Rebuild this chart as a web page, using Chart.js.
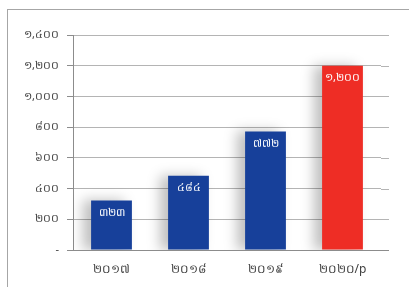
<!DOCTYPE html>
<html>
<head>
<meta charset="utf-8">
<script src="https://cdn.jsdelivr.net/npm/chart.js@4"></script>
<style>
  html, body { margin: 0; padding: 0; background: #fff; }
  #wrap { position: relative; width: 409px; height: 287px; overflow: hidden; }
  #frame {
    position: absolute; left: 7px; top: 9px; width: 420px; height: 300px;
    border-left: 1px solid #a6a6a6; border-top: 1px solid #a6a6a6;
  }
  #graph { position: absolute; left: 0; top: 0; }
</style>
</head>
<body>
<div id="wrap">
  <div id="frame"></div>
  <canvas id="graph" width="409" height="287"></canvas>
</div>
<script>
"use strict";

const years = ["២០១៧", "២០១៨", "២០១៩", "២០២០/p"];
const values = [323, 484, 772, 1200];
const valueLabels = ["៣២៣", "៤៨៤", "៧៧២", "១,២០០"];
const barColors = ["#17409a", "#17409a", "#17409a", "#ee2d25"];
const yTickLabels = {
  0: "-", 200: "២០០", 400: "៤០០", 600: "៦០០", 800: "៨០០",
  1000: "១,០០០", 1200: "១,២០០", 1400: "១,៤០០",
};

document.addEventListener("DOMContentLoaded", () => {
  const ctx = document.getElementById("graph").getContext("2d");
  const fontFamily = "'Noto Sans', 'DejaVu Sans', sans-serif";

  // soft drop shadow to the left of each bar
  const barShadow = {
    id: "barShadow",
    beforeDatasetsDraw(chart) {
      const c = chart.ctx;
      c.save();
      c.shadowColor = "rgba(0,0,0,0.25)";
      c.shadowBlur = 12;
      c.shadowOffsetX = -8;
      c.shadowOffsetY = 0;
    },
    afterDatasetsDraw(chart) {
      chart.ctx.restore();
    },
  };

  // gridlines run a little past the last category in the original
  const gridTail = {
    id: "gridTail",
    beforeDatasetsDraw(chart) {
      const c = chart.ctx;
      const y = chart.scales.y;
      const right = chart.chartArea.right;
      c.save();
      c.lineWidth = 1;
      y.ticks.forEach((t) => {
        const py = Math.round(y.getPixelForValue(t.value)) + 0.5;
        c.strokeStyle = t.value === 0 ? "#8c8c8c" : "#b4b4b4";
        c.beginPath();
        c.moveTo(right, py);
        c.lineTo(right + 8, py);
        c.stroke();
      });
      c.restore();
    },
  };

  // value labels inside the top of each bar
  const barValues = {
    id: "barValues",
    afterDatasetsDraw(chart) {
      const c = chart.ctx;
      const meta = chart.getDatasetMeta(0);
      c.save();
      c.fillStyle = "#ffffff";
      c.font = "11px " + fontFamily;
      c.textAlign = "center";
      c.textBaseline = "top";
      meta.data.forEach((bar, i) => {
        c.fillText(valueLabels[i], bar.x, bar.y + 7);
      });
      c.restore();
    },
  };

  new Chart(ctx, {
    type: "bar",
    data: {
      labels: years,
      datasets: [
        {
          data: values,
          backgroundColor: barColors,
          barPercentage: 0.53,
          categoryPercentage: 1,
        },
      ],
    },
    options: {
      responsive: false,
      animation: false,
      layout: { padding: { top: 35, right: 28, left: 0, bottom: 0 } },
      plugins: {
        legend: { display: false },
        tooltip: { enabled: false },
      },
      scales: {
        x: {
          grid: { display: false },
          border: { display: true, color: "#8c8c8c" },
          ticks: {
            color: "#404040",
            padding: 4,
            font: { family: fontFamily, size: 12 },
          },
          afterFit(scale) { scale.height = 37; },
        },
        y: {
          min: 0,
          max: 1400,
          grid: { color: "#b4b4b4", tickLength: 6, tickColor: "#8c8c8c" },
          border: { display: true, color: "#8c8c8c" },
          ticks: {
            stepSize: 200,
            padding: 8,
            color: "#404040",
            font: { family: fontFamily, size: 11 },
            callback: (v) => yTickLabels[v],
          },
          afterFit(scale) { scale.width = 73; },
        },
      },
    },
    plugins: [gridTail, barShadow, barValues],
  });
});
</script>
</body>
</html>
